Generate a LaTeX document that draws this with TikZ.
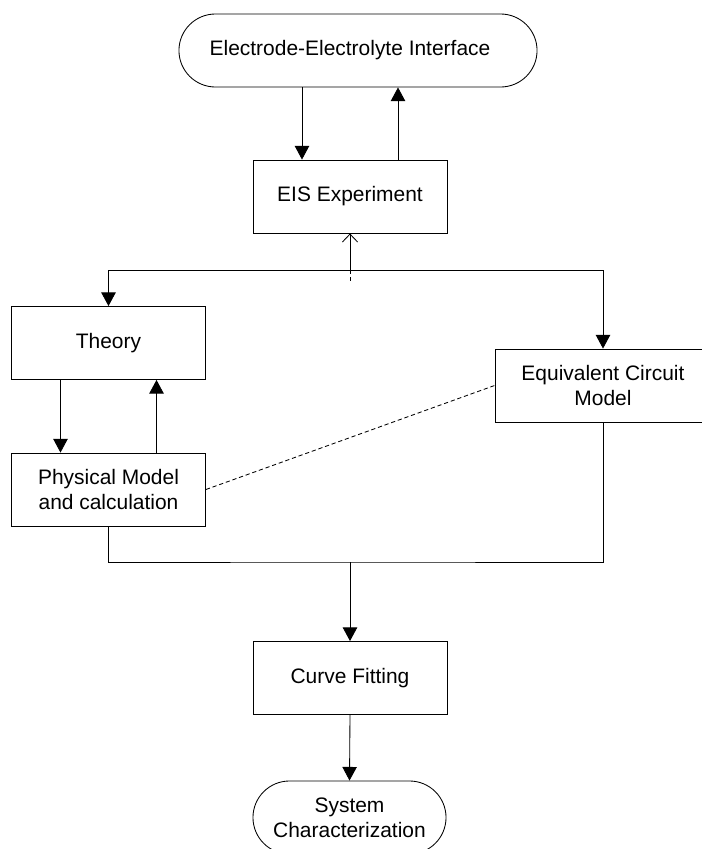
\documentclass[tikz,border=0pt]{standalone}
\usepackage{fontspec}
\setmainfont{Liberation Sans}
\usepackage{tikz}
\usetikzlibrary{arrows.meta,positioning,calc,shapes.misc}

\begin{document}
\begin{tikzpicture}[x=0.025cm,y=-0.025cm,font=\fontsize{14.9}{17.8}\selectfont,line width=0.6pt,
    box/.style={draw,rectangle,minimum width=4.85cm,minimum height=1.825cm,align=center,inner sep=0pt},
    term/.style={draw,rounded rectangle,minimum height=1.825cm,align=center,inner sep=0pt},
    arr/.style={-{Triangle[length=0.34cm,width=0.36cm]}},
    openarr/.style={-{Straight Barb[length=0.2cm,width=0.38cm]}},
    dsh/.style={dash pattern=on 3pt off 2pt}]
  \useasboundingbox (0,0) rectangle (702,849);
  \node[term,minimum width=8.95cm] (eei) at (358,50.5) {\hspace*{-0.4cm}Electrode-Electrolyte Interface};
  \node[box] (eis) at (350,196.5) {EIS Experiment};
  \node[box] (theory) at (108.5,343) {Theory};
  \node[box] (phys) at (108.5,489.5) {Physical Model\\and calculation};
  \node[box,minimum width=5.4cm] (ecm) at (603,385.5) {Equivalent Circuit\\Model};
  \node[box] (fit) at (350,678) {Curve Fitting};
  \node[term,minimum width=4.825cm] (sys) at (349.5,817.5) {System\\Characterization};
  \coordinate (split) at (350,270);
  \coordinate (join) at (350,562);

  \draw[arr] ([xshift=-1.2cm]eis.north |- eei.south) -- ([xshift=-1.2cm]eis.north);
  \draw[arr] ([xshift=1.2cm]eis.north) -- ([xshift=1.2cm]eis.north |- eei.south);
  \draw[openarr] (split) -- (eis.south);
  \draw[dsh] (split) -- ++(0,13);
  \draw[arr] (split) -| (theory.north);
  \draw[arr] (split) -| (ecm.north);
  \draw[arr] ([xshift=-1.2cm]theory.south) -- ([xshift=-1.2cm]phys.north);
  \draw[arr] ([xshift=1.2cm]phys.north) -- ([xshift=1.2cm]theory.south);
  \draw[dsh] (phys.east) -- (ecm.west);
  \draw (phys.south) |- (join) -| (ecm.south);
  \draw[arr] (join) -- (fit.north);
  \draw[arr] (fit.south) -- (sys.north);
\end{tikzpicture}
\end{document}
